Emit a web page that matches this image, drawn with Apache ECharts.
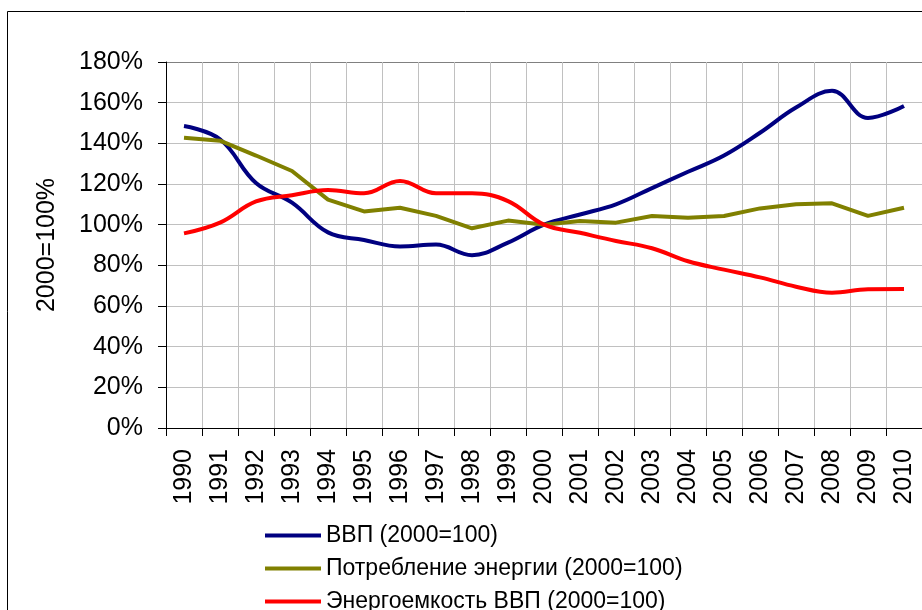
<!DOCTYPE html>
<html>
<head>
<meta charset="utf-8">
<script src="https://cdn.jsdelivr.net/npm/echarts@6/dist/echarts.min.js"></script>
<style>
  html, body { margin: 0; padding: 0; background: #fff; }
  #chart { width: 922px; height: 610px; }
</style>
</head>
<body>
<div id="chart"></div>
<script>
// годы по оси X
const years = ['1990', '1991', '1992', '1993', '1994', '1995', '1996', '1997', '1998', '1999', '2000',
  '2001', '2002', '2003', '2004', '2005', '2006', '2007', '2008', '2009', '2010'];

// ВВП (2000=100)
const gdp = [148.5, 142, 120.5, 110.8, 96.2, 92.5, 89.3, 90.2, 85, 91.2, 100,
  105, 110, 118, 126, 134, 145.2, 157.6, 165.8, 152.5, 158.4];

// Потребление энергии (2000=100)
const energy = [142.8, 141.3, 134, 126.4, 112.3, 106.5, 108.3, 104.3, 98.2, 102, 100,
  101.8, 101, 104.3, 103.4, 104.3, 108, 110, 110.5, 104.3, 108.3];

// Энергоемкость ВВП (2000=100)
const intensity = [95.7, 101, 111.4, 114.5, 117, 115.4, 121.5, 115.4, 115.4, 111.6, 100,
  96, 92, 88.4, 82, 77.9, 74.1, 69.5, 66.5, 68.2, 68.3];

const seriesNames = ['ВВП (2000=100)', 'Потребление энергии (2000=100)', 'Энергоемкость ВВП (2000=100)'];
const seriesColors = ['#000080', '#808000', '#ff0000'];

const font = '"Liberation Sans", Arial, sans-serif';

const chart = echarts.init(document.getElementById('chart'), null, { renderer: 'canvas' });

const option = {
  animation: false,
  backgroundColor: '#fff',
  textStyle: { fontFamily: font },
  graphic: [{
    type: 'rect',
    shape: { x: 7.5, y: 11.5, width: 1000, height: 1000 },
    style: { fill: 'none', stroke: '#000', lineWidth: 1 },
    silent: true
  }],
  grid: {
    left: 166,
    top: 62,
    right: 0,
    bottom: 182,
    containLabel: false
  },
  legend: {
    orient: 'vertical',
    left: 265,
    top: 524,
    height: 200,
    padding: 0,
    icon: 'rect',
    itemWidth: 56,
    itemHeight: 4,
    itemGap: 10,
    textStyle: { fontSize: 23, color: '#000', fontFamily: font },
    data: seriesNames
  },
  xAxis: {
    type: 'category',
    data: years,
    boundaryGap: true,
    axisLine: { lineStyle: { color: '#000', width: 1 } },
    axisTick: { show: true, length: 8, lineStyle: { color: '#000' } },
    axisLabel: {
      rotate: 90,
      margin: 21,
      fontSize: 25,
      color: '#000',
      fontFamily: font,
      interval: 0
    },
    splitLine: { show: true, lineStyle: { color: '#c0c0c0', width: 1 } }
  },
  yAxis: {
    type: 'value',
    min: 0,
    max: 180,
    interval: 20,
    name: '2000=100%',
    nameLocation: 'middle',
    nameGap: 106,
    nameRotate: 90,
    nameTextStyle: { fontSize: 25, color: '#000', fontFamily: font },
    axisLine: { show: true, lineStyle: { color: '#000', width: 1 } },
    axisTick: { show: true, length: 8, lineStyle: { color: '#000' } },
    axisLabel: {
      formatter: '{value}%',
      margin: 23,
      fontSize: 25,
      color: '#000',
      fontFamily: font
    },
    splitLine: {
      show: true,
      lineStyle: {
        color: ['#c0c0c0', '#c0c0c0', '#c0c0c0', '#c0c0c0', '#c0c0c0',
          '#c0c0c0', '#c0c0c0', '#c0c0c0', '#c0c0c0', '#808080'],
        width: 1
      }
    }
  },
  series: [
    {
      name: seriesNames[0],
      type: 'line',
      data: gdp,
      smooth: 0.4,
      symbol: 'none',
      lineStyle: { color: seriesColors[0], width: 4 },
      itemStyle: { color: seriesColors[0] }
    },
    {
      name: seriesNames[1],
      type: 'line',
      data: energy,
      smooth: false,
      symbol: 'none',
      lineStyle: { color: seriesColors[1], width: 4 },
      itemStyle: { color: seriesColors[1] }
    },
    {
      name: seriesNames[2],
      type: 'line',
      data: intensity,
      smooth: 0.4,
      symbol: 'none',
      lineStyle: { color: seriesColors[2], width: 4 },
      itemStyle: { color: seriesColors[2] }
    }
  ]
};

chart.setOption(option);
</script>
</body>
</html>
